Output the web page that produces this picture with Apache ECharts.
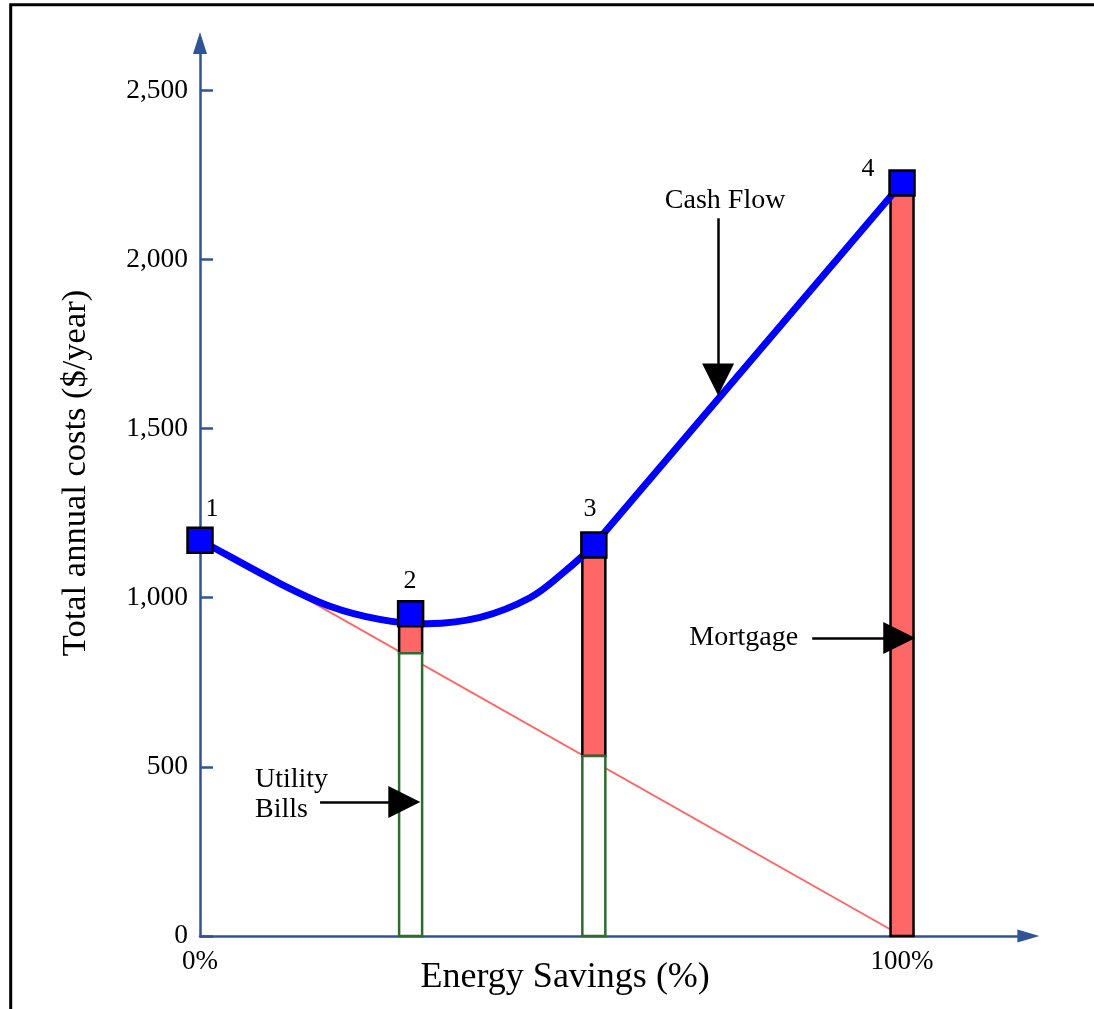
<!DOCTYPE html>
<html><head><meta charset="utf-8">
<script src="https://cdn.jsdelivr.net/npm/echarts@6/dist/echarts.min.js"></script>
<style>html,body{margin:0;padding:0;background:#fff}#c{width:1094px;height:1009px}</style>
</head><body><div id="c"></div>
<script>
// ---- data ----
const yTicks = [0, 500, 1000, 1500, 2000, 2500];
const xTicks = [0, 100];
const pointPct = [0, 30, 56.1, 100];
const pointLabels = ['1', '2', '3', '4'];
const pointCost = [1170, 953, 1156, 2226];
const barPct = [30, 56.1, 100];
const utilityBars = [836, 532, 0];
const mortgageBars = [117, 624, 2226];
const utilityLinePct = [0, 100];
const utilityLineCost = [1175, 0];
const curvePct = [0, 11.4, 18.5, 25.6, 32.3, 39.9, 47.0, 51.8, 56.1];
const curveCost = [1170, 1042, 975, 936, 923, 942, 1000, 1075, 1156];
const annoText = ['Cash Flow', 'Mortgage', 'Utility\nBills'];
const annoPos = [[74.8, 2174], [85.2, 881], [7.83, 417]];
const annoAlign = ['center', 'right', 'left'];
const arrowFrom = [[73.8, 2122], [87.2, 881], [17.1, 396]];
const arrowTo = [[73.8, 1645], [99.6, 881], [29.1, 396]];
const numberLabelPos = [[1.71, 1262], [29.91, 1049], [55.56, 1262], [95.16, 2266]];

const FONT = 'Liberation Serif';
const AXIS = '#2F5597';
const zip = (a, b) => a.map((v, i) => [v, b[i]]);

// smooth curve through the data points (Catmull-Rom -> cubic Bezier), in pixel space from api.coord
function smoothPath(api) {
  const pts = curvePct.map((p, i) => api.coord([p, curveCost[i]]));
  const n = pts.length;
  const first = [2 * pts[0][0] - pts[1][0], 2 * pts[0][1] - pts[1][1]];
  const end = api.coord([pointPct[3], pointCost[3]]);
  const last = pts[n - 1], prev = pts[n - 2];
  const seg = Math.hypot(last[0] - prev[0], last[1] - prev[1]);
  const dx = end[0] - last[0], dy = end[1] - last[1], dl = Math.hypot(dx, dy);
  const after = [last[0] + dx / dl * seg, last[1] + dy / dl * seg];
  const ext = [first].concat(pts, [after]);
  let d = 'M' + pts[0][0] + ' ' + pts[0][1];
  for (let i = 1; i < ext.length - 2; i++) {
    const p0 = ext[i - 1], p1 = ext[i], p2 = ext[i + 1], p3 = ext[i + 2];
    const c1 = [p1[0] + (p2[0] - p0[0]) / 6, p1[1] + (p2[1] - p0[1]) / 6];
    const c2 = [p2[0] - (p3[0] - p1[0]) / 6, p2[1] - (p3[1] - p1[1]) / 6];
    d += ' C' + c1[0] + ' ' + c1[1] + ' ' + c2[0] + ' ' + c2[1] + ' ' + p2[0] + ' ' + p2[1];
  }
  return d;
}

const chart = echarts.init(document.getElementById('c'), null, {renderer: 'canvas'});
chart.setOption({
  animation: false,
  backgroundColor: '#fff',
  textStyle: {fontFamily: FONT},
  grid: {left: 200, right: 65.6, top: 43, bottom: 73, containLabel: false, outerBoundsMode: 'none'},
  xAxis: {
    type: 'value', min: 0, max: 118,
    name: 'Energy Savings (%)', nameLocation: 'middle', nameGap: 24, nameMoveOverlap: false,
    nameTextStyle: {fontFamily: FONT, fontSize: 36, color: '#000', padding: [0, 98, 0, 0]},
    axisLine: {show: true, lineStyle: {color: AXIS, width: 2.5}, symbol: ['none', 'triangle'], symbolSize: [13, 22]},
    axisTick: {show: false},
    splitLine: {show: false},
    axisLabel: {customValues: xTicks, formatter: v => v + '%', fontFamily: FONT, fontSize: 27, color: '#000', margin: 12}
  },
  yAxis: {
    type: 'value', min: 0, max: 2640,
    name: 'Total annual costs ($/year)', nameLocation: 'middle', nameGap: 107, nameMoveOverlap: false,
    nameTextStyle: {fontFamily: FONT, fontSize: 34.5, color: '#000', padding: [0, 0, 0, 33]},
    axisLine: {show: true, lineStyle: {color: AXIS, width: 2.5}, symbol: ['none', 'triangle'], symbolSize: [14, 22]},
    axisTick: {show: true, inside: true, length: 13, customValues: yTicks, lineStyle: {color: AXIS, width: 2.5}},
    splitLine: {show: false},
    axisLabel: {customValues: yTicks, formatter: v => v.toLocaleString('en-US'), fontFamily: FONT, fontSize: 27.5, color: '#000', margin: 12}
  },
  graphic: [{
    type: 'rect', z: -10, silent: true,
    shape: {x: 10.7, y: 4.7, width: 2000, height: 2000},
    style: {fill: 'none', stroke: '#000', lineWidth: 3}
  }],
  series: [
    {
      name: 'Utility line', type: 'line', z: 1, symbol: 'none', silent: true,
      data: zip(utilityLinePct, utilityLineCost),
      lineStyle: {color: '#FF6666', width: 2}
    },
    {
      name: 'Bars', type: 'custom', z: 2, silent: true,
      data: barPct.map((p, i) => [p, utilityBars[i], mortgageBars[i]]),
      encode: {x: 0, y: 1},
      renderItem: (params, api) => {
        const x = api.value(0), u = api.value(1), m = api.value(2);
        const p0 = api.coord([x, 0]), p1 = api.coord([x, u]), p2 = api.coord([x, u + m]);
        const w = 23;
        const children = [{
          type: 'rect',
          shape: {x: p0[0] - w / 2, y: p2[1], width: w, height: p1[1] - p2[1]},
          style: {fill: '#FF6666', stroke: '#000', lineWidth: 2.5}
        }];
        if (u > 0) children.push({
          type: 'rect',
          shape: {x: p0[0] - w / 2, y: p1[1], width: w, height: p0[1] - p1[1]},
          style: {fill: '#fff', stroke: '#2E6B30', lineWidth: 2.5}
        });
        return {type: 'group', children};
      }
    },
    {
      name: 'Cash Flow curve', type: 'custom', z: 3, silent: true,
      data: zip(curvePct, curveCost),
      encode: {x: 0, y: 1},
      renderItem: (params, api) => {
        if (params.dataIndex !== 0) return null;
        return {
          type: 'path',
          shape: {pathData: smoothPath(api)},
          style: {fill: 'none', stroke: '#0000FF', lineWidth: 7, lineCap: 'round'}
        };
      }
    },
    {
      name: 'Cash Flow line', type: 'line', z: 3, symbol: 'none', silent: true,
      data: [[pointPct[2], pointCost[2]], [pointPct[3], pointCost[3]]],
      lineStyle: {color: '#0000FF', width: 7, cap: 'round'}
    },
    {
      name: 'Points', type: 'scatter', z: 5, symbol: 'rect', symbolSize: 25,
      data: zip(pointPct, pointCost),
      itemStyle: {color: '#0000FF', borderColor: '#000', borderWidth: 2.5, opacity: 1}
    },
    {
      name: 'Point numbers', type: 'scatter', z: 6, symbolSize: 0, silent: true,
      itemStyle: {opacity: 1},
      data: numberLabelPos.map((p, i) => ({value: p, name: pointLabels[i]})),
      label: {show: true, position: 'inside', formatter: '{b}', fontFamily: FONT, fontSize: 26, color: '#000', opacity: 1}
    },
    {
      name: 'Annotations', type: 'scatter', z: 6, symbolSize: 0, silent: true,
      itemStyle: {opacity: 1},
      data: annoPos.map((p, i) => ({value: p, name: annoText[i],
        label: {align: annoAlign[i]}})),
      label: {show: true, position: 'inside', formatter: '{b}', fontFamily: FONT, fontSize: 28,
        lineHeight: 30, color: '#000', opacity: 1, verticalAlign: 'middle'}
    },
    {
      name: 'Arrows', type: 'lines', coordinateSystem: 'cartesian2d', z: 6, silent: true,
      symbol: ['none', 'triangle'], symbolSize: [20, 32],
      data: arrowFrom.map((f, i) => ({coords: [f, arrowTo[i]]})),
      lineStyle: {color: '#000', width: 2.5, opacity: 1}
    }
  ]
});
</script>
</body></html>
